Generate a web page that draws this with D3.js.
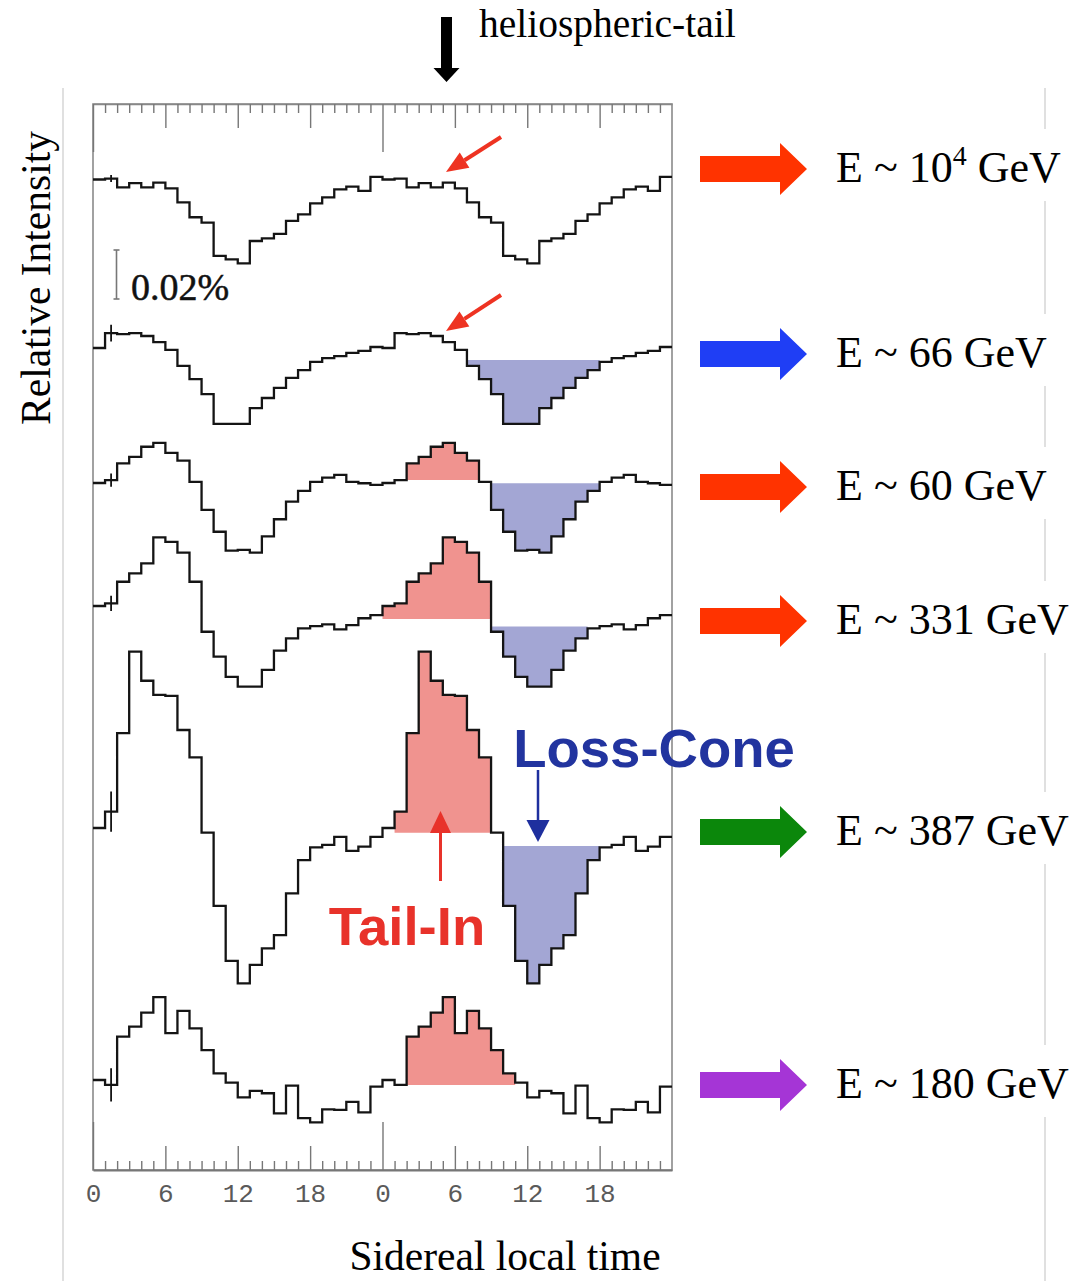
<!DOCTYPE html>
<html>
<head>
<meta charset="utf-8">
<script src="https://cdn.jsdelivr.net/npm/d3@7/dist/d3.min.js"></script>
<style>
  body { margin: 0; background: #fff; }
  svg { display: block; }
</style>
</head>
<body>
<svg id="chart" width="1075" height="1281"></svg>
<script>
// Sidereal daily variations of cosmic-ray intensity, hourly bins (0..23 h).
// Values are deviations in units of 0.01 %; each day is drawn twice (0..48 h).
const energies = ["10^4", "66", "60", "331", "387", "180"];

const e10000 = [0.02, 0.06, -0.30, -0.13, -0.30, -0.11, -0.34, -0.91, -1.52, -1.74, -3.10, -3.24,
                -3.40, -2.49, -2.38, -2.20, -1.67, -1.40, -0.95, -0.71, -0.38, -0.27, -0.44, 0.13];
const e66    = [0.00, 0.61, 0.57, 0.61, 0.49, 0.24, -0.08, -0.73, -1.27, -1.88, -3.10, -3.10,
                -3.10, -2.45, -2.04, -1.63, -1.22, -0.90, -0.57, -0.41, -0.33, -0.20, -0.12, 0.04];
const e60    = [0.00, 0.12, 0.80, 1.07, 1.48, 1.64, 1.23, 0.91, 0.05, -1.10, -1.99, -2.76,
                -2.73, -2.84, -2.18, -1.48, -0.76, -0.32, 0.05, 0.22, 0.33, 0.05, -0.01, -0.08];
const e331   = [0.00, 0.11, 0.99, 1.33, 1.74, 2.80, 2.62, 2.18, 0.99, -1.05, -2.07, -2.89,
                -3.29, -3.29, -2.61, -1.82, -1.32, -0.91, -0.82, -0.75, -0.95, -0.78, -0.50, -0.37];
const e387   = [0.00, 0.67, 3.87, 7.20, 6.01, 5.43, 5.39, 4.00, 2.88, -0.19, -3.18, -5.42,
                -6.34, -5.59, -4.91, -4.37, -2.67, -1.31, -0.79, -0.69, -0.36, -0.93, -0.76, -0.36];
const e180   = [0.00, -0.20, 1.77, 2.18, 2.75, 3.38, 1.91, 2.82, 2.11, 1.22, 0.27, -0.11,
                -0.71, -0.44, -0.54, -1.36, -0.23, -1.56, -1.73, -1.20, -1.22, -0.89, -1.32, -0.27];
const seriesValues = [e10000, e66, e60, e331, e387, e180];

// statistical error (half length, 0.01 %) drawn at 1.5 h
const errorBars = [0.14, 0.34, 0.27, 0.31, 0.82, 0.68];

// shaded excesses (Tail-In) and deficits (Loss-Cone): [start h, end h, reference level]
const tailIn   = [null, null, [26, 32, 0.12], [24, 33, -0.53], [25, 33, -0.19], [26, 35, -0.20]];
const lossCone = [null, [31, 42, -0.49], [33, 42, -0.01], [33, 41, -0.84], [34, 42, -0.73], null];

const arrowColors = ["#ff3300", "#1f3ef5", "#ff3300", "#ff3300", "#0b870b", "#a535d6"];
const tickLabels = ["0", "6", "12", "18", "0", "6", "12", "18"];
const scaleBarValue = 2;          // 0.02 %
const scaleBarLabel = "0.02%";

// ---- layout ----
const W = 1075, H = 1281;
const plotLeft = 93, plotRight = 672, plotTop = 104, plotBottom = 1170;
const rowZero = [180, 348, 483, 606, 828, 1080];   // zero level of each row
const pxPerUnit = 24.5;                             // pixels per 0.01 %

const svg = d3.select("#chart");
const x = d3.scaleLinear().domain([0, 48]).range([plotLeft, plotRight]);
const yFor = i => d3.scaleLinear().domain([0, 1]).range([rowZero[i], rowZero[i] - pxPerUnit]);

// faint outer frame
svg.append("g").attr("stroke", "#d6d6d6").attr("stroke-width", 1.5)
  .selectAll("line").data([63, 1045]).join("line")
  .attr("x1", d => d).attr("x2", d => d).attr("y1", 88).attr("y2", H);

// plot box
svg.append("rect")
  .attr("x", plotLeft).attr("y", plotTop)
  .attr("width", plotRight - plotLeft).attr("height", plotBottom - plotTop)
  .attr("fill", "none").attr("stroke", "#8a8a8a").attr("stroke-width", 1.6);

// hour ticks: minor each hour, major each 6 h, long at day boundary
const tickLen = h => (h % 24 === 0 ? 48 : h % 6 === 0 ? 24 : 9);
const hoursAll = d3.range(0, 48);

const bottomAxis = d3.axisBottom(x).tickValues(hoursAll)
  .tickSize(0).tickPadding(14)
  .tickFormat(h => (h % 6 === 0 ? tickLabels[h / 6] : ""));
const gb = svg.append("g").attr("transform", `translate(0,${plotBottom})`).call(bottomAxis);
gb.select(".domain").attr("stroke", "#777").attr("stroke-width", 1.8);
gb.selectAll(".tick line").attr("y2", h => -tickLen(h)).attr("stroke", "#777").attr("stroke-width", 1.4);
gb.selectAll(".tick text")
  .attr("font-family", "'Liberation Mono', monospace").attr("font-size", 26).attr("fill", "#5a5a5a");

const topAxis = d3.axisTop(x).tickValues(hoursAll).tickSize(0).tickFormat("");
const gt = svg.append("g").attr("transform", `translate(0,${plotTop})`).call(topAxis);
gt.select(".domain").attr("stroke", "#888").attr("stroke-width", 1.6);
gt.selectAll(".tick line").attr("y2", h => tickLen(h)).attr("stroke", "#777").attr("stroke-width", 1.4);

// step curves
const step = d3.curveStepAfter;
seriesValues.forEach((vals, i) => {
  const y = yFor(i);
  const pts = d3.range(0, 48).map(h => [h, vals[h % 24]]);
  pts.push([48, vals[23]]);
  const g = svg.append("g");

  const fill = (spec, color) => {
    if (!spec) return;
    const [a, b, ref] = spec;
    const seg = d3.range(a, b).map(h => [h, vals[h % 24]]);
    seg.push([b, vals[(b - 1) % 24]]);
    g.append("path").datum(seg)
      .attr("fill", color)
      .attr("d", d3.area().curve(step).x(d => x(d[0])).y0(y(ref)).y1(d => y(d[1])));
  };
  fill(tailIn[i], "#f0938f");
  fill(lossCone[i], "#a3a6d4");

  g.append("path").datum(pts)
    .attr("fill", "none").attr("stroke", "#141414").attr("stroke-width", 2.3)
    .attr("stroke-linejoin", "miter")
    .attr("d", d3.line().curve(step).x(d => x(d[0])).y(d => y(d[1])));

  // error bar
  const v = vals[1];
  g.append("line")
    .attr("x1", x(1.5)).attr("x2", x(1.5))
    .attr("y1", y(v + errorBars[i])).attr("y2", y(v - errorBars[i]))
    .attr("stroke", "#141414").attr("stroke-width", 1.8);
});

// scale bar
{
  const y0 = 299, y1 = y0 - scaleBarValue * pxPerUnit, sx = 116.5;
  const g = svg.append("g").attr("stroke", "#777").attr("stroke-width", 1.6);
  g.append("line").attr("x1", sx).attr("x2", sx).attr("y1", y0).attr("y2", y1);
  g.append("line").attr("x1", sx - 3).attr("x2", sx + 3).attr("y1", y0).attr("y2", y0);
  g.append("line").attr("x1", sx - 3).attr("x2", sx + 3).attr("y1", y1).attr("y2", y1);
  svg.append("text").attr("x", 131).attr("y", 300)
    .attr("font-family", "'Liberation Serif', serif").attr("font-size", 38).attr("fill", "#111")
    .attr("stroke", "#111").attr("stroke-width", 0.5)
    .text(scaleBarLabel);
}

// arrow helper (line + filled triangular head)
function arrow(x1, y1, x2, y2, color, width, headLen, headW) {
  const ang = Math.atan2(y2 - y1, x2 - x1);
  const bx = x2 - headLen * Math.cos(ang), by = y2 - headLen * Math.sin(ang);
  const nx = -Math.sin(ang) * headW / 2, ny = Math.cos(ang) * headW / 2;
  svg.append("line").attr("x1", x1).attr("y1", y1).attr("x2", bx).attr("y2", by)
    .attr("stroke", color).attr("stroke-width", width);
  svg.append("path")
    .attr("d", `M${x2},${y2}L${bx + nx},${by + ny}L${bx - nx},${by - ny}Z`)
    .attr("fill", color);
}

// heliospheric-tail direction
svg.append("path")
  .attr("d", "M441,17 L452,17 L452,68 L459.5,68 L446.5,82 L433.5,68 L441,68 Z")
  .attr("fill", "#000");
svg.append("text").attr("x", 479).attr("y", 37)
  .attr("font-family", "'Liberation Serif', serif").attr("font-size", 39.5).attr("fill", "#000")
  .text("heliospheric-tail");

// pointers to the tail direction on the upper two curves
arrow(501, 137, 446, 172, "#ee3322", 4, 22, 18);
arrow(501, 295, 446, 331, "#ee3322", 4, 22, 18);

// Tail-In / Loss-Cone annotations
arrow(440.5, 881, 440.5, 811, "#e8322a", 3, 22, 21);
svg.append("text").attr("x", 407).attr("y", 945).attr("text-anchor", "middle")
  .attr("font-family", "'Liberation Sans', Arial, sans-serif").attr("font-weight", "bold")
  .attr("font-size", 54.5).attr("fill", "#e8322a").text("Tail-In");

arrow(538, 770, 538, 842, "#1e2f9e", 2.5, 22, 23);
svg.append("text").attr("x", 654).attr("y", 767).attr("text-anchor", "middle")
  .attr("font-family", "'Liberation Sans', Arial, sans-serif").attr("font-weight", "bold")
  .attr("font-size", 54.5).attr("fill", "#22349f").text("Loss-Cone");

// energy legend on the right, one row per curve
const legendTip = [169, 354, 487, 621, 832, 1085];
energies.forEach((e, i) => {
  const cy = legendTip[i];
  svg.append("rect").attr("x", 825).attr("y", cy - 40).attr("width", 250).attr("height", 72).attr("fill", "#fff");
  svg.append("path")
    .attr("d", `M700,${cy - 13} L780,${cy - 13} L780,${cy - 26} L807,${cy} L780,${cy + 26} L780,${cy + 13} L700,${cy + 13} Z`)
    .attr("fill", arrowColors[i]);
  const t = svg.append("text").attr("x", 836).attr("y", cy + 13)
    .attr("font-family", "'Liberation Serif', serif").attr("font-size", 44).attr("fill", "#000");
  if (e.includes("^")) {
    const [base, exp] = e.split("^");
    t.append("tspan").text(`E ~ ${base}`);
    t.append("tspan").attr("dy", -17).attr("font-size", 28).text(exp);
    t.append("tspan").attr("dy", 17).text(" GeV");
  } else {
    t.text(`E ~ ${e} GeV`);
  }
});

// axis titles
svg.append("text").attr("x", 505).attr("y", 1270).attr("text-anchor", "middle")
  .attr("font-family", "'Liberation Serif', serif").attr("font-size", 41.5).attr("fill", "#000")
  .text("Sidereal local time");
svg.append("text")
  .attr("transform", "translate(50,278) rotate(-90)").attr("text-anchor", "middle")
  .attr("font-family", "'Liberation Serif', serif").attr("font-size", 41.5).attr("fill", "#000")
  .text("Relative Intensity");
</script>
</body>
</html>
